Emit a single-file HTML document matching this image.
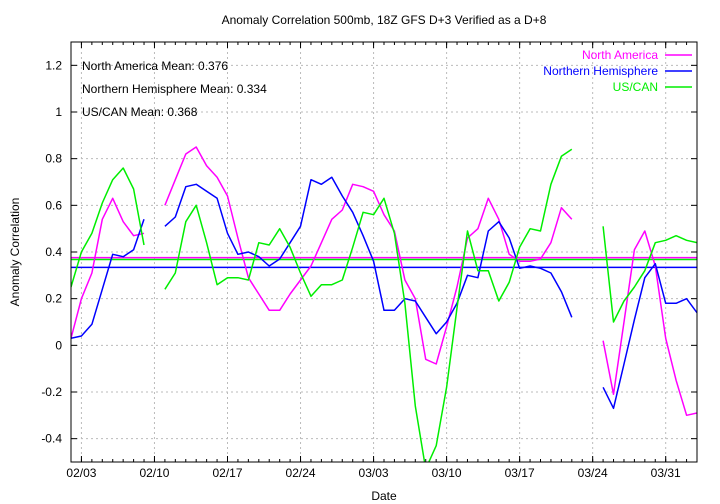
<!DOCTYPE html>
<html><head><meta charset="utf-8"><style>
body{margin:0;background:#fff;}
svg{display:block;font-family:"Liberation Sans",sans-serif;font-size:12px;}
</style></head><body>
<svg id="chart" width="720" height="504" xmlns="http://www.w3.org/2000/svg">
<defs><clipPath id="clip"><rect x="71" y="42" width="626" height="420"/></clipPath></defs>
<text x="384" y="24" text-anchor="middle">Anomaly Correlation 500mb, 18Z GFS D+3 Verified as a D+8</text>
<text transform="translate(19,252) rotate(-90)" text-anchor="middle">Anomaly Correlation</text>
<text x="384" y="500" text-anchor="middle">Date</text>
<g id="grid"></g><g id="axes"></g>
<g id="series" clip-path="url(#clip)"></g>
<rect x="71" y="42" width="626" height="420" fill="none" stroke="#000" stroke-width="1"/>
<text x="82" y="70">North America Mean: 0.376</text>
<text x="82" y="93">Northern Hemisphere Mean: 0.334</text>
<text x="82" y="116">US/CAN Mean: 0.368</text>
<g>
<text x="658" y="59" text-anchor="end" fill="#ff00ff">North America</text>
<line x1="665" y1="55" x2="692" y2="55" stroke="#ff00ff" stroke-width="1.5"/>
<text x="658" y="75" text-anchor="end" fill="#0000ff">Northern Hemisphere</text>
<line x1="665" y1="71" x2="692" y2="71" stroke="#0000ff" stroke-width="1.5"/>
<text x="658" y="91" text-anchor="end" fill="#00ee00">US/CAN</text>
<line x1="665" y1="87" x2="692" y2="87" stroke="#00ee00" stroke-width="1.5"/>
</g>
</svg>
<script>
const yTicks=[-0.4,-0.2,0,0.2,0.4,0.6,0.8,1,1.2];
const yTickLabels=["-0.4","-0.2","0","0.2","0.4","0.6","0.8","1","1.2"];
const xTickDays=[1,8,15,22,29,36,43,50,57];
const xTickLabels=["02/03","02/10","02/17","02/24","03/03","03/10","03/17","03/24","03/31"];
const naValues=[0.03,0.2,0.31,0.54,0.63,0.53,0.47,0.48,null,0.60,0.71,0.82,0.85,0.77,0.72,0.64,0.46,0.29,0.22,0.15,0.15,0.22,0.28,0.34,0.44,0.54,0.58,0.69,0.68,0.66,0.56,0.49,0.28,0.2,-0.06,-0.08,0.08,0.25,0.46,0.5,0.63,0.54,0.39,0.36,0.36,0.37,0.44,0.59,0.54,null,null,0.02,-0.21,0.1,0.41,0.49,0.34,0.03,-0.15,-0.3,-0.29];
const nhValues=[0.03,0.04,0.09,0.24,0.39,0.38,0.41,0.54,null,0.51,0.55,0.68,0.69,0.66,0.63,0.48,0.39,0.40,0.38,0.34,0.37,0.44,0.51,0.71,0.69,0.72,0.64,0.57,0.47,0.36,0.15,0.15,0.2,0.19,0.12,0.05,0.1,0.18,0.3,0.29,0.49,0.53,0.46,0.33,0.34,0.33,0.31,0.23,0.12,null,null,-0.18,-0.27,-0.08,0.11,0.29,0.35,0.18,0.18,0.2,0.14];
const usValues=[0.25,0.4,0.48,0.61,0.71,0.76,0.67,0.43,null,0.24,0.31,0.53,0.6,0.44,0.26,0.29,0.29,0.28,0.44,0.43,0.5,0.42,0.31,0.21,0.26,0.26,0.28,0.42,0.57,0.56,0.63,0.48,0.18,-0.26,-0.53,-0.43,-0.18,0.16,0.49,0.32,0.32,0.19,0.27,0.42,0.5,0.49,0.69,0.81,0.84,null,null,0.51,0.1,0.19,0.25,0.32,0.44,0.45,0.47,0.45,0.44];
const means=[0.376,0.334,0.368];
const NS="http://www.w3.org/2000/svg";
const X0=71,X1=697,Y0=42,Y1=462,DAYS=60,YMIN=-0.5,YMAX=1.3;
function xs(d){return X0+(X1-X0)*d/DAYS;}
function ys(v){return Y1-(Y1-Y0)*(v-YMIN)/(YMAX-YMIN);}
function mk(t,a,p){const e=document.createElementNS(NS,t);for(const k in a)e.setAttribute(k,a[k]);p.appendChild(e);return e;}
const grid=document.getElementById('grid'),axes=document.getElementById('axes'),ser=document.getElementById('series');
yTicks.forEach((v,i)=>{
 const g=mk('line',{x1:X0,x2:X1,y1:ys(v),y2:ys(v),stroke:'#bbb','stroke-dasharray':'2,3','stroke-width':1},grid);
 
 
 mk('line',{x1:X0,x2:X0+6,y1:ys(v),y2:ys(v),stroke:'#000'},axes);
 mk('line',{x1:X1-6,x2:X1,y1:ys(v),y2:ys(v),stroke:'#000'},axes);
 const t=mk('text',{x:X0-9,y:ys(v)+4,'text-anchor':'end'},axes);
 
 
 t.textContent=yTickLabels[i];
});
for(let d=1;d<DAYS;d++){
 mk('line',{x1:xs(d),x2:xs(d),y1:Y1,y2:Y1-3,stroke:'#000'},axes);
 mk('line',{x1:xs(d),x2:xs(d),y1:Y0,y2:Y0+3,stroke:'#000'},axes);
}
xTickDays.forEach((d,i)=>{
 const g=mk('line',{x1:xs(d),x2:xs(d),y1:Y0,y2:Y1,stroke:'#bbb','stroke-dasharray':'2,3','stroke-width':1},grid);
 
 
 mk('line',{x1:xs(d),x2:xs(d),y1:Y1,y2:Y1-6,stroke:'#000'},axes);
 mk('line',{x1:xs(d),x2:xs(d),y1:Y0,y2:Y0+6,stroke:'#000'},axes);
 const t=mk('text',{x:xs(d),y:Y1+15,'text-anchor':'middle'},axes);
 
 
 t.textContent=xTickLabels[i];
});
const cols=['#ff00ff','#0000ff','#00ee00'];
const names=['north-america','northern-hemisphere','us-can'];
[naValues,nhValues,usValues].forEach((arr,si)=>{
 const ml=mk('line',{x1:X0,x2:X1,y1:ys(means[si]),y2:ys(means[si]),stroke:cols[si],'stroke-width':1.5},ser);
 
 
});
[naValues,nhValues,usValues].forEach((arr,si)=>{
 let d='',pen=false;
 arr.forEach((v,i)=>{if(v===null){pen=false;return;}d+=(pen?'L':'M')+xs(i).toFixed(1)+','+ys(v).toFixed(1);pen=true;});
 const p=mk('path',{d:d,fill:'none',stroke:cols[si],'stroke-width':1.5,'stroke-linejoin':'round'},ser);
 
 
});
</script>
</body></html>
